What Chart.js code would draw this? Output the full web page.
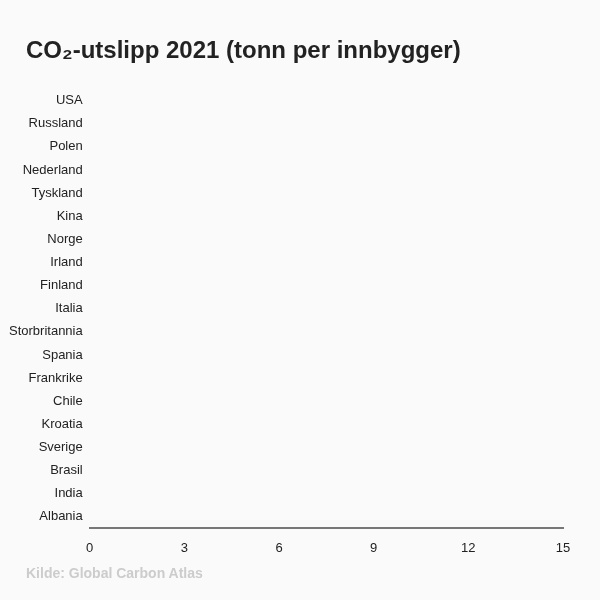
<!DOCTYPE html>
<html lang="no">
<head>
    <meta charset="UTF-8">
    <title>CO2-utslipp 2021</title>
    <script src="https://cdn.jsdelivr.net/npm/chart.js"></script>
    <style>
        body {
            margin: 0;
            background: #fafafa;
            font-family: "Liberation Sans", Arial, sans-serif;
        }
        .wrap {
            position: relative;
            width: 600px;
            height: 600px;
        }
        canvas {
            position: absolute;
            left: 0;
            top: 0;
        }
        h1 {
            position: absolute;
            left: 26px;
            top: 37px;
            margin: 0;
            font-size: 24px;
            line-height: 26px;
            color: #222;
        }
        .source {
            position: absolute;
            left: 26px;
            top: 566px;
            font-size: 14px;
            line-height: 15px;
            font-weight: bold;
            color: #cccccc;
        }
    </style>
</head>
<body>
    <div class="wrap">
        <canvas id="co2Chart" width="600" height="600"></canvas>
        <h1>CO₂-utslipp 2021 (tonn per innbygger)</h1>
        <div class="source">Kilde: Global Carbon Atlas</div>
    </div>

    <script>
        // land og tonn CO2 per innbygger (2021)
        const countries = ['USA', 'Russland', 'Polen', 'Nederland', 'Tyskland', 'Kina', 'Norge', 'Irland',
            'Finland', 'Italia', 'Storbritannia', 'Spania', 'Frankrike', 'Chile', 'Kroatia', 'Sverige',
            'Brasil', 'India', 'Albania'];
        const tonnPerCapita = [14.9, 12.1, 8.5, 8.1, 8.1, 8.0, 7.5, 7.4, 6.9, 5.6, 5.2, 4.9, 4.7, 4.5, 4.4,
            3.6, 2.3, 1.9, 1.7];
        const xTicks = [0, 3, 6, 9, 12, 15];

        const ctx = document.getElementById('co2Chart').getContext('2d');
        const co2Chart = new Chart(ctx, {
            type: 'bar',
            data: {
                labels: countries,
                datasets: [{
                    data: tonnPerCapita,
                    backgroundColor: 'rgba(0,0,0,0)',
                    borderWidth: 0
                }]
            },
            options: {
                indexAxis: 'y',
                responsive: false,
                animation: false,
                layout: {
                    padding: { left: 2, right: 37, top: 89, bottom: 32 }
                },
                plugins: {
                    legend: { display: false },
                    tooltip: { enabled: false }
                },
                scales: {
                    x: {
                        min: 0,
                        max: 15,
                        afterBuildTicks: function(scale) {
                            scale.ticks = xTicks.map(v => ({ value: v }));
                        },
                        grid: { display: false, drawTicks: false },
                        border: { display: true, color: '#777', width: 2 },
                        ticks: {
                            padding: 12,
                            color: '#222',
                            font: { family: '"Liberation Sans", Arial, sans-serif', size: 13 }
                        }
                    },
                    y: {
                        grid: { display: false, drawTicks: false },
                        border: { display: false },
                        ticks: {
                            padding: 7,
                            color: '#222',
                            font: { family: '"Liberation Sans", Arial, sans-serif', size: 13 }
                        }
                    }
                }
            }
        });
    </script>
</body>
</html>
